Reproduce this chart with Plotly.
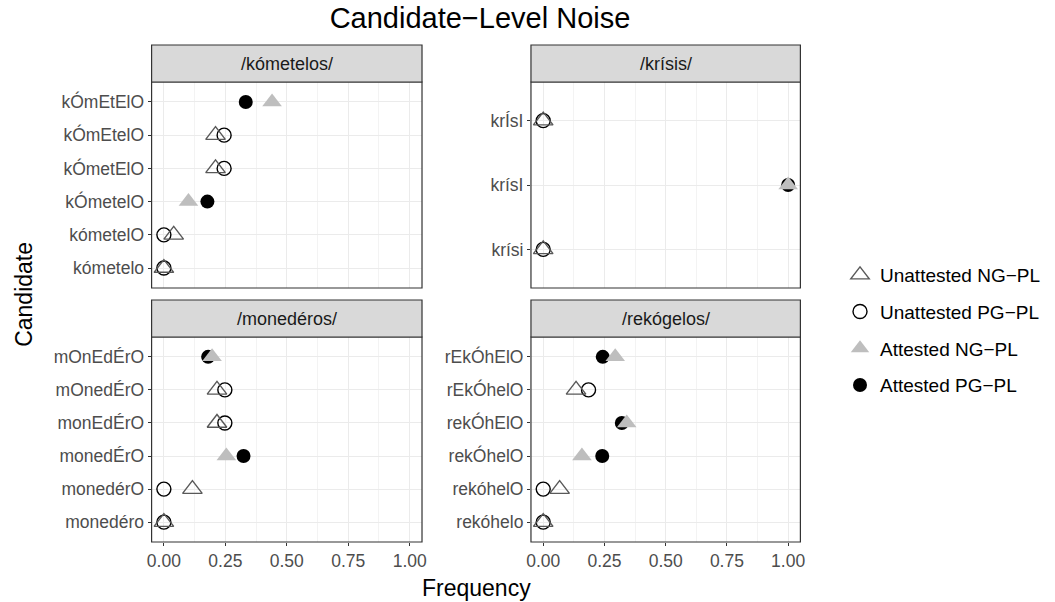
import plotly.graph_objects as go

# ---- data: candidate frequencies per input form ----
kometelos_cands = ["kómetelo", "kómetelO", "kÓmetelO", "kÓmetElO", "kÓmEtelO", "kÓmEtElO"]
kometelos_ng = [0.0, 0.04, 0.10, 0.21, 0.21, 0.44]
kometelos_pg = [0.0, 0.0, 0.177, 0.245, 0.245, 0.333]
kometelos_attested = [False, False, True, False, False, True]

krisis_cands = ["krísi", "krísI", "krÍsI"]
krisis_ng = [0.0, 1.0, 0.0]
krisis_pg = [0.0, 1.0, 0.0]
krisis_attested = [False, True, False]

monederos_cands = ["monedéro", "monedérO", "monedÉrO", "monEdÉrO", "mOnedÉrO", "mOnEdÉrO"]
monederos_ng = [0.0, 0.116, 0.254, 0.216, 0.216, 0.196]
monederos_pg = [0.0, 0.0, 0.324, 0.248, 0.248, 0.18]
monederos_attested = [False, False, True, False, False, True]

rekogelos_cands = ["rekóhelo", "rekóhelO", "rekÓhelO", "rekÓhElO", "rEkÓhelO", "rEkÓhElO"]
rekogelos_ng = [0.0, 0.067, 0.158, 0.341, 0.134, 0.294]
rekogelos_pg = [0.0, 0.0, 0.241, 0.321, 0.185, 0.243]
rekogelos_attested = [False, False, True, True, False, True]

panel_titles = ["/kómetelos/", "/krísis/", "/monedéros/", "/rekógelos/"]
x_ticks = [0.0, 0.25, 0.5, 0.75, 1.0]

panels = [
    (kometelos_cands, kometelos_ng, kometelos_pg, kometelos_attested),
    (krisis_cands, krisis_ng, krisis_pg, krisis_attested),
    (monederos_cands, monederos_ng, monederos_pg, monederos_attested),
    (rekogelos_cands, rekogelos_ng, rekogelos_pg, rekogelos_attested),
]

# ---- layout geometry (pixels of a 1055x602 page) ----
W, H = 1055, 602
col_px = [(148, 421), (531, 803)]
row_px = [(82, 288), (337, 542)]  # plot area top/bottom
strip_px = [(45, 82), (300, 337)]

FONT = "Liberation Sans, Arial, Helvetica, sans-serif"
BORDER = "#333333"
TICK_SIZE = 17.5

def px_x(p):
    return p / W

def px_y(p):
    return 1 - p / H

# series styles: (label, value key, attested?, symbol, size, colour, legend rank)
series = [
    ("Unattested PG\u2212PL", "pg", False, "circle-open", 14, "#000000", 2),
    ("Unattested NG\u2212PL", "ng", False, "triangle-up-open", 17, "#595959", 1),
    ("Attested PG\u2212PL", "pg", True, "circle", 14, "#000000", 4),
    ("Attested NG\u2212PL", "ng", True, "triangle-up", 17, "#BEBEBE", 3),
]

fig = go.Figure()
layout_axes = {}
shapes = []
annotations = []

for i, (cands, ng, pg, att) in enumerate(panels):
    r, c = divmod(i, 2)
    n = i + 1
    xa = "x" if n == 1 else f"x{n}"
    ya = "y" if n == 1 else f"y{n}"
    vals = {"ng": ng, "pg": pg}
    for label, key, attested, symbol, size, color, rank in series:
        xs = [v for v, a in zip(vals[key], att) if a == attested]
        ys = [cnd for cnd, a in zip(cands, att) if a == attested]
        marker = dict(symbol=symbol, size=size, color=color)
        if symbol.endswith("open"):
            marker["line"] = dict(color=color, width=1.4)
        else:
            marker["line"] = dict(width=0)
        fig.add_trace(go.Scatter(
            x=xs, y=ys, mode="markers", marker=marker, name=label,
            legendgroup=label, legendrank=rank, showlegend=(i == 0),
            xaxis=xa, yaxis=ya, cliponaxis=False,
        ))

    x0, x1 = col_px[c]
    yt, yb = row_px[r]
    st, sb = strip_px[r]
    xkey = "xaxis" if n == 1 else f"xaxis{n}"
    ykey = "yaxis" if n == 1 else f"yaxis{n}"
    layout_axes[xkey] = dict(
        domain=[px_x(x0), px_x(x1)], anchor=ya, range=[-0.05, 1.05],
        tickvals=x_ticks, ticktext=[f"{v:.2f}" for v in x_ticks],
        showticklabels=(r == 1), ticks="outside" if r == 1 else "",
        ticklen=3, tickcolor=BORDER, tickwidth=1,
        tickfont=dict(size=TICK_SIZE, color="#4D4D4D", family=FONT),
        showgrid=True, gridcolor="#EBEBEB", gridwidth=1.1,
        minor=dict(tickvals=[0.125, 0.375, 0.625, 0.875], showgrid=True,
                   gridcolor="#F3F3F3", gridwidth=0.6, ticks=""),
        zeroline=False, showline=False,
    )
    layout_axes[ykey] = dict(
        domain=[px_y(yb), px_y(yt)], anchor=xa, type="category",
        categoryorder="array", categoryarray=cands,
        range=[-0.6, len(cands) - 0.4],
        ticks="outside", ticklen=3, tickcolor=BORDER, tickwidth=1,
        tickfont=dict(size=TICK_SIZE, color="#4D4D4D", family=FONT),
        showgrid=True, gridcolor="#EBEBEB", gridwidth=1.1,
        zeroline=False, showline=False,
    )
    # panel border
    shapes.append(dict(type="rect", xref="paper", yref="paper",
                       x0=px_x(x0), x1=px_x(x1), y0=px_y(yb), y1=px_y(yt),
                       line=dict(color=BORDER, width=1.2), fillcolor="rgba(0,0,0,0)",
                       layer="above"))
    # strip
    shapes.append(dict(type="rect", xref="paper", yref="paper",
                       x0=px_x(x0), x1=px_x(x1), y0=px_y(sb), y1=px_y(st),
                       line=dict(color=BORDER, width=1.2), fillcolor="#D9D9D9",
                       layer="above"))
    annotations.append(dict(text=panel_titles[i], xref="paper", yref="paper",
                            x=px_x((x0 + x1) / 2), y=px_y((st + sb) / 2),
                            xanchor="center", yanchor="middle", showarrow=False,
                            font=dict(size=18, color="#1A1A1A", family=FONT)))

# axis titles
annotations.append(dict(text="Frequency", xref="paper", yref="paper",
                        x=px_x(476), y=px_y(588), xanchor="center", yanchor="middle",
                        showarrow=False, font=dict(size=23, color="#000000", family=FONT)))
annotations.append(dict(text="Candidate", xref="paper", yref="paper",
                        x=px_x(19), y=px_y(294), xanchor="center", yanchor="middle",
                        textangle=-90, showarrow=False,
                        font=dict(size=23, color="#000000", family=FONT)))

fig.update_layout(
    width=W, height=H,
    margin=dict(l=0, r=0, t=0, b=0),
    paper_bgcolor="white", plot_bgcolor="white",
    font=dict(family=FONT),
    title=dict(text="Candidate\u2212Level Noise", x=px_x(480), y=px_y(18),
               xanchor="center", yanchor="middle",
               font=dict(size=29, color="#000000", family=FONT)),
    legend=dict(x=px_x(843), y=px_y(330), xanchor="left", yanchor="middle",
                font=dict(size=19, color="#000000", family=FONT),
                tracegroupgap=9, itemsizing="trace", bgcolor="rgba(0,0,0,0)"),
    shapes=shapes, annotations=annotations,
    **layout_axes,
)

fig.write_html("out.html")
